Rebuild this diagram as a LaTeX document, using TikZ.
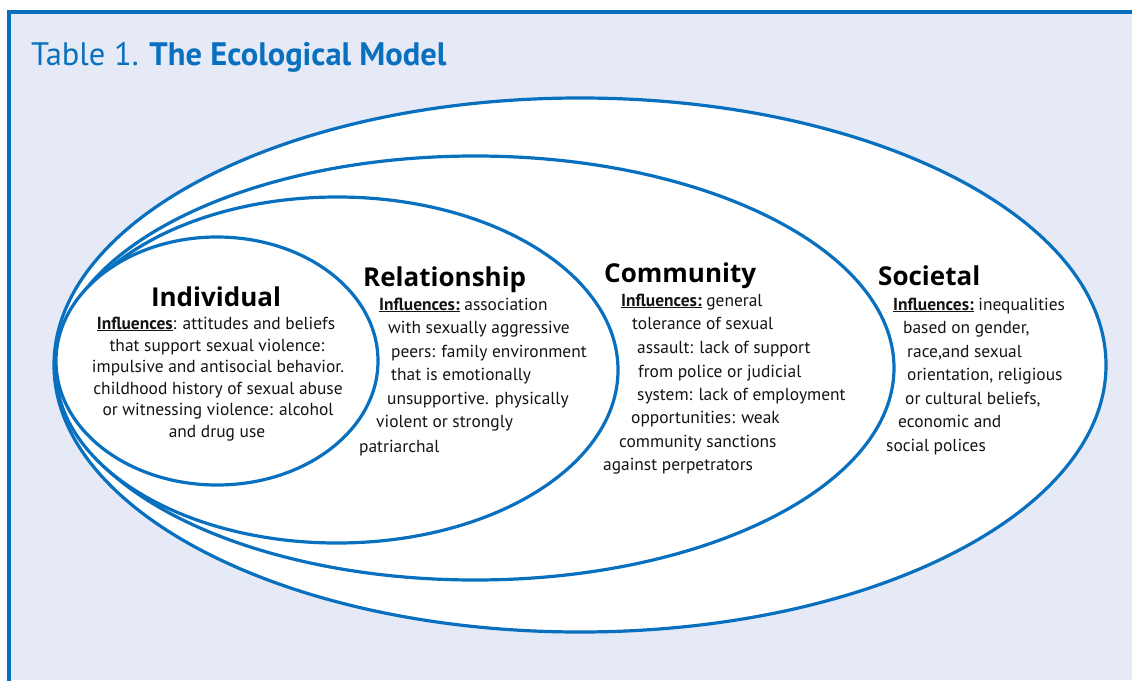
\documentclass[tikz,border=0pt]{standalone}
\usepackage{fontspec}
\setmainfont{PT Sans}
\newfontfamily\headfont{Open Sans}
\usetikzlibrary{shapes.geometric}
\definecolor{eblue}{RGB}{8,112,190}
\definecolor{ebg}{RGB}{229,234,246}
\definecolor{etext}{RGB}{20,20,20}
\newcommand{\infl}{\underline{\textbf{Influences:}}}
\begin{document}
\begin{tikzpicture}[x=1pt,y=-1pt,
  ring/.style={draw=eblue,line width=3.2pt,fill=white,ellipse,inner sep=0pt,outer sep=0pt},
  body/.style={anchor=base west,inner sep=0pt,text=etext,font=\fontsize{17.4}{20}\selectfont},
  bodyc/.style={anchor=base,inner sep=0pt,text=etext,font=\fontsize{17.4}{20}\selectfont},
  head/.style={anchor=base west,inner sep=0pt,text=black,font=\headfont\fontsize{26}{30}\selectfont\bfseries},
  headc/.style={anchor=base,inner sep=0pt,text=black,font=\headfont\fontsize{26}{30}\selectfont\bfseries}]
\useasboundingbox (0,0) rectangle (1132,680);
\fill[white] (0,0) rectangle (1132,680);
\fill[ebg] (9,12) rectangle (1132,680);
\draw[eblue,line width=3.5pt] (9,682) -- (9,12) -- (1134,12);
% title
\node[anchor=base west,inner sep=0pt,text=eblue,font=\fontsize{32.5}{33}\selectfont] (title) at (31,65) {Table 1.\hspace{-1pt} \textbf{The Ecological Model}};
% rings
\node[ring,minimum width=1052pt,minimum height=534pt] (soc) at (580,365) {};
\node[ring,minimum width=838pt,minimum height=424pt] (com) at (475,368) {};
\node[ring,minimum width=562pt,minimum height=346pt] (rel) at (337,370) {};
\node[ring,minimum width=322pt,minimum height=248pt] (ind) at (217,361) {};
% Individual
\node[headc] (indh) at (216,306) {Individual};
\node[bodyc] (ind1) at (216,329) {\underline{\textbf{Influences}}: attitudes and beliefs};
\node[bodyc] (ind2) at (217,351) {that support sexual violence:};
\node[bodyc] (ind3) at (218,372) {impulsive and antisocial behavior.};
\node[bodyc] (ind4) at (218,394) {childhood history of sexual abuse};
\node[bodyc] (ind5) at (218,415) {or witnessing violence: alcohol};
\node[bodyc] (ind6) at (217,437) {and drug use};
% Relationship
\node[head] (relh) at (363,286) {Relationship};
\node[body] (rel1) at (379,310) {\infl{} association};
\node[body] (rel2) at (388,333) {with sexually aggressive};
\node[body] (rel3) at (391,357) {peers: family environment};
\node[body] (rel4) at (391,380) {that is emotionally};
\node[body] (rel5) at (387,404) {unsupportive. physically};
\node[body] (rel6) at (376,427) {violent or strongly};
\node[body] (rel7) at (359,452) {patriarchal};
% Community
\node[head] (comh) at (604,282) {Community};
\node[body] (com1) at (621,306) {\infl{} general};
\node[body] (com2) at (632,329) {tolerance of sexual};
\node[body] (com3) at (637,353) {assault: lack of support};
\node[body] (com4) at (638,377) {from police or judicial};
\node[body] (com5) at (637,400) {system: lack of employment};
\node[body] (com6) at (631,423) {opportunities: weak};
\node[body] (com7) at (619,447) {community sanctions};
\node[body] (com8) at (603,470) {against perpetrators};
% Societal
\node[head] (soch) at (878,285) {Societal};
\node[body] (soc1) at (893,310) {\infl{} inequalities};
\node[body] (soc2) at (903,333) {based on gender,};
\node[body] (soc3) at (907,357) {race,and sexual};
\node[body] (soc4) at (907,380) {orientation, religious};
\node[body] (soc5) at (905,404) {or cultural beliefs,};
\node[body] (soc6) at (898,427) {economic and};
\node[body] (soc7) at (886,451) {social polices};
\end{tikzpicture}
\end{document}
